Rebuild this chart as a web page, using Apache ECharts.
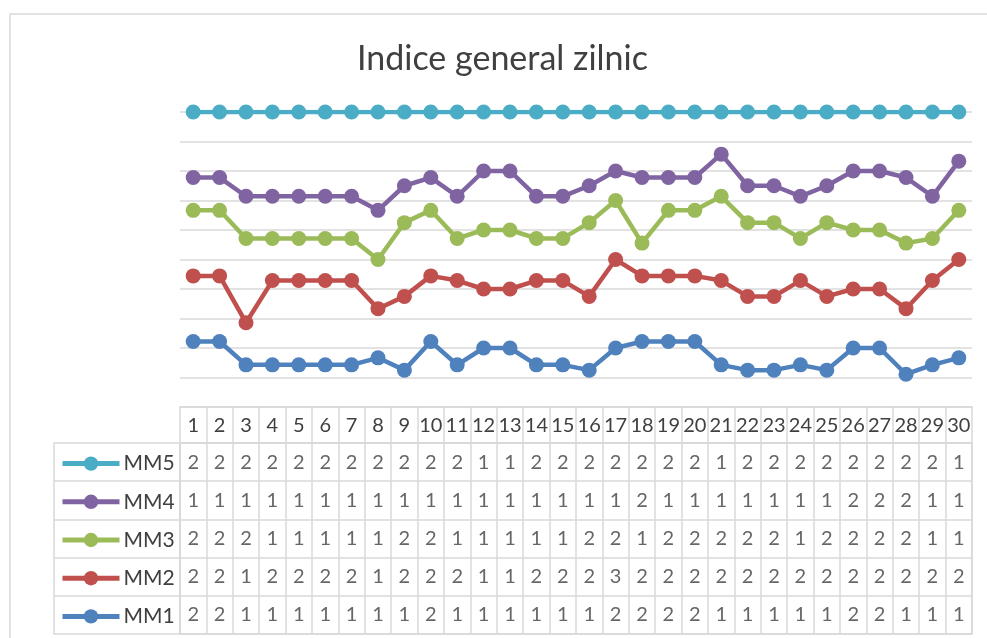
<!DOCTYPE html>
<html>
<head>
<meta charset="utf-8">
<script src="https://cdn.jsdelivr.net/npm/echarts@6/dist/echarts.min.js"></script>
<style>
html,body{margin:0;padding:0;background:#fff;}
#chart{width:987px;height:638px;}
</style>
</head>
<body>
<div id="chart"></div>
<script>
var days = ['1','2','3','4','5','6','7','8','9','10','11','12','13','14','15','16','17','18','19','20','21','22','23','24','25','26','27','28','29','30'];
var MM1 = [2,2,1,1,1,1,1,1,1,2,1,1,1,1,1,1,2,2,2,2,1,1,1,1,1,2,2,1,1,1];
var MM2 = [2,2,1,2,2,2,2,1,2,2,2,1,1,2,2,2,3,2,2,2,2,2,2,2,2,2,2,2,2,2];
var MM3 = [2,2,2,1,1,1,1,1,2,2,1,1,1,1,1,2,2,1,2,2,2,2,2,1,2,2,2,2,1,1];
var MM4 = [1,1,1,1,1,1,1,1,1,1,1,1,1,1,1,1,1,2,1,1,1,1,1,1,1,2,2,2,1,1];
var MM5 = [2,2,2,2,2,2,2,2,2,2,2,1,1,2,2,2,2,2,2,2,1,2,2,2,2,2,2,2,2,1];
var seriesNames = ['MM1','MM2','MM3','MM4','MM5'];
var seriesData = [MM1, MM2, MM3, MM4, MM5];
var seriesColors = ['#4F81BD','#C0504D','#9BBB59','#8064A2','#4BACC6'];

var totals = days.map(function(d, i){
  var s = 0; seriesData.forEach(function(arr){ s += arr[i]; }); return s;
});

var FONT = 'Lato, "Open Sans", sans-serif';
var GRID_COLOR = '#d9d9d9';
var TEXT_COLOR = '#404040';

var TABLE_TOP = 443, TABLE_BOTTOM_PX = 634, ROWS = seriesNames.length;
var rowH = (TABLE_BOTTOM_PX - TABLE_TOP) / ROWS;

var lineSeries = seriesNames.map(function(name, k){
  return {
    name: name,
    type: 'line',
    xAxisIndex: 0, yAxisIndex: 0,
    stack: 'pct',
    data: seriesData[k].map(function(v, i){ return v / totals[i] * 100; }),
    symbol: 'circle',
    symbolSize: 15,
    lineStyle: { width: 4.5, color: seriesColors[k] },
    itemStyle: { color: seriesColors[k] },
    z: 3,
    animation: false
  };
});

var tableData = [];
seriesNames.forEach(function(name, k){
  seriesData[k].forEach(function(v, i){ tableData.push([i, k, v]); });
});

var tableSeries = {
  name: 'tabel',
  type: 'scatter',
  xAxisIndex: 1, yAxisIndex: 1,
  data: tableData,
  symbol: 'rect',
  symbolSize: 1,
  itemStyle: { color: 'rgba(0,0,0,0)' },
  label: {
    show: true, position: 'inside',
    formatter: function(p){ return String(p.value[2]); },
    fontFamily: FONT, fontSize: 20, color: TEXT_COLOR
  },
  silent: true,
  animation: false
};

// one legend per table row (top row = MM5)
var legends = seriesNames.map(function(name, k){
  var rowFromTop = ROWS - 1 - k;
  var center = TABLE_TOP + rowH * (rowFromTop + 0.5);
  return {
    data: [name],
    orient: 'horizontal',
    left: 55, top: center - 14,
    itemWidth: 57, itemHeight: 18, itemGap: 0,
    selectedMode: false,
    lineStyle: { width: 5 },
    textStyle: { fontFamily: FONT, fontSize: 21, color: TEXT_COLOR, padding: [0,0,6,-1] }
  };
});

var chart = echarts.init(document.getElementById('chart'), null, {renderer: 'canvas'});
chart.setOption({
  backgroundColor: '#fff',
  animation: false,
  title: {
    text: 'Indice general zilnic',
    left: 352, top: 37,
    textStyle: { fontFamily: FONT, fontSize: 34, fontWeight: 'normal', color: TEXT_COLOR }
  },
  graphic: [{
    type: 'rect', silent: true,
    shape: { x: 10, y: 14, width: 1000, height: 700 },
    style: { fill: 'none', stroke: GRID_COLOR, lineWidth: 1.5 }
  }],
  legend: legends,
  grid: [
    { left: 180, right: 15, top: 112, bottom: 231, containLabel: false },
    { left: 180, right: 15, top: TABLE_TOP, bottom: 638 - TABLE_BOTTOM_PX, containLabel: false,
      show: true, borderColor: GRID_COLOR, borderWidth: 1.5, backgroundColor: 'transparent' }
  ],
  xAxis: [
    { type: 'category', gridIndex: 0, data: days, boundaryGap: true,
      axisLine: { show: true, lineStyle: { color: GRID_COLOR, width: 1.5 } },
      axisTick: { show: false }, axisLabel: { show: false }, splitLine: { show: false } },
    { type: 'category', gridIndex: 1, data: days, boundaryGap: true, position: 'top',
      axisLine: { show: true, lineStyle: { color: GRID_COLOR, width: 1.5 } },
      axisTick: { show: true, inside: false, length: 36, alignWithLabel: false, interval: 0,
        lineStyle: { color: GRID_COLOR, width: 1.5 } },
      axisLabel: { show: true, interval: 0, margin: 7, fontFamily: FONT, fontSize: 20, color: TEXT_COLOR,
        verticalAlign: 'bottom' },
      splitLine: { show: true, interval: 0, lineStyle: { color: GRID_COLOR, width: 1.5 } } }
  ],
  yAxis: [
    { type: 'value', gridIndex: 0, min: 0, max: 100, interval: 10,
      axisLine: { show: false }, axisTick: { show: false }, axisLabel: { show: false },
      splitLine: { show: true, lineStyle: { color: GRID_COLOR, width: 1.5 } } },
    { type: 'category', gridIndex: 1, data: seriesNames, boundaryGap: true,
      axisLine: { show: true, lineStyle: { color: GRID_COLOR, width: 1.5 } },
      axisTick: { show: true, inside: false, length: 126, alignWithLabel: false, interval: 0,
        lineStyle: { color: GRID_COLOR, width: 1.5 } },
      axisLabel: { show: false },
      splitLine: { show: true, interval: 0, lineStyle: { color: GRID_COLOR, width: 1.5 } } },
    { type: 'category', gridIndex: 1, data: seriesNames, boundaryGap: true, position: 'left', offset: 126,
      axisLine: { show: true, lineStyle: { color: GRID_COLOR, width: 1.5 } },
      axisTick: { show: false }, axisLabel: { show: false }, splitLine: { show: false } }
  ],
  series: lineSeries.concat([tableSeries])
});
</script>
</body>
</html>
